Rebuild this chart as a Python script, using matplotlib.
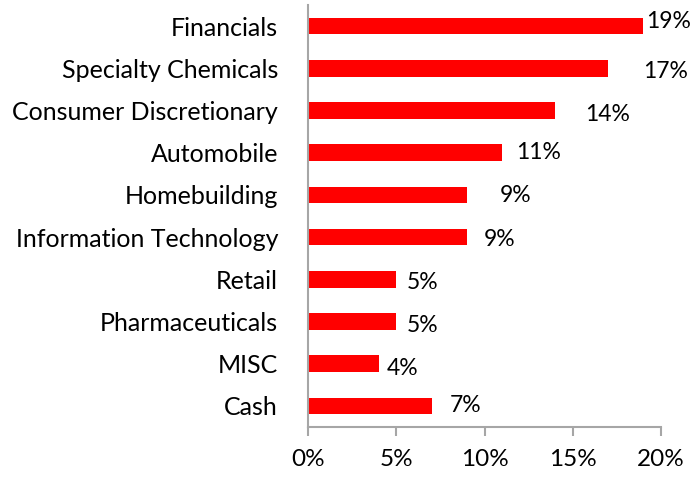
import matplotlib
matplotlib.use("Agg")
import matplotlib.pyplot as plt
from matplotlib.ticker import FuncFormatter

categories = ["Financials", "Specialty Chemicals", "Consumer Discretionary", "Automobile",
              "Homebuilding", "Information Technology", "Retail", "Pharmaceuticals", "MISC", "Cash"]
values = [19, 17, 14, 11, 9, 9, 5, 5, 4, 7]
value_labels = ["19%", "17%", "14%", "11%", "9%", "9%", "5%", "5%", "4%", "7%"]
x_ticks = [0, 5, 10, 15, 20]

# manual label offsets (pixels) as in the reference
label_dx = [3, 35, 30, 14, 33, 17, 11, 11, 8, 18]
label_dy = [-5, 3, 4, 0, 1, 2, 3, 4, 5, 0]

plt.rcParams['font.family'] = ['Lato', 'DejaVu Sans']
FS = 18
FS_VAL = 16.5

fig = plt.figure(figsize=(6.94, 4.83), dpi=100)
ax = fig.add_axes([308/694, 1-427/483, (661-308)/694, (427-5)/483])

ypos = list(range(len(categories)))
ax.barh(ypos, values, height=0.39, color="#ff0000")
ax.set_ylim(len(categories)-0.5, -0.5)
ax.set_xlim(0, 20)
ax.set_yticks(ypos)
ax.set_yticklabels(categories, fontsize=FS, color="#000000")
ax.set_xticks(x_ticks)
ax.xaxis.set_major_formatter(FuncFormatter(lambda v, p: f"{v:.0f}%"))
ax.tick_params(axis='x', labelsize=17.5, length=6.5, width=1.5, color="#a6a6a6", pad=9, direction='out')
ax.tick_params(axis='y', length=0, pad=21.6)

for s in ["top", "right"]:
    ax.spines[s].set_visible(False)
for s in ["left", "bottom"]:
    ax.spines[s].set_color("#a6a6a6")
    ax.spines[s].set_linewidth(1.5)

for i, (v, lab) in enumerate(zip(values, value_labels)):
    ax.annotate(lab, xy=(v, i), xytext=(label_dx[i], -label_dy[i]), textcoords="offset pixels",
                ha="left", va="center", fontsize=FS_VAL, color="#000000")

fig.savefig("out.png", dpi=100)
